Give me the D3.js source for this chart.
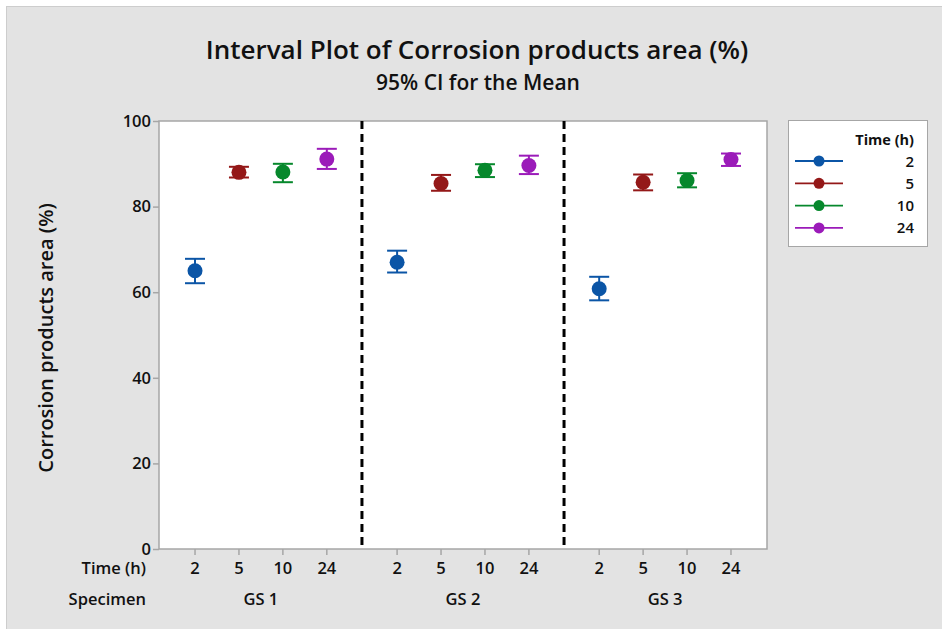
<!DOCTYPE html>
<html>
<head>
<meta charset="utf-8">
<script src="https://cdn.jsdelivr.net/npm/d3@7"></script>
<style>
  html, body { margin: 0; padding: 0; background: #ffffff; }
  svg { display: block; font-family: "Open Sans", "Noto Sans", sans-serif; }
</style>
</head>
<body>
<svg id="chart" width="942" height="629"></svg>
<script>
// ---- data ----
const specimens = ["GS 1", "GS 2", "GS 3"];
const times = ["2", "5", "10", "24"];
const means = [
  [65.0, 88.0, 88.1, 91.1],
  [67.0, 85.4, 88.5, 89.6],
  [60.8, 85.7, 86.1, 91.0]
];
const lower = [
  [62.1, 86.8, 85.7, 88.8],
  [64.6, 83.7, 86.9, 87.6],
  [58.1, 83.8, 84.5, 89.5]
];
const upper = [
  [67.8, 89.3, 90.0, 93.5],
  [69.7, 87.4, 89.9, 91.9],
  [63.6, 87.5, 87.8, 92.4]
];
const yTicks = [0, 20, 40, 60, 80, 100];
const colors = ["#0b55a6", "#941818", "#06882c", "#9b1bb9"];

// ---- layout ----
const svg = d3.select("#chart");
const W = 942, H = 629;
const plot = { left: 159, right: 767, top: 121, bottom: 549 };
const groupGap = 4.6;

svg.append("rect").attr("x", 6.5).attr("y", 6.5).attr("width", W - 6).attr("height", H - 6)
  .attr("fill", "#e3e3e3").attr("stroke", "#cdcdcd").attr("stroke-width", 1);

const y = d3.scaleLinear().domain([0, 100]).range([plot.bottom, plot.top]);
const xs = d3.scaleLinear().domain([-0.82, (specimens.length - 1) * groupGap + 3 + 0.82])
  .range([plot.left, plot.right]);
const pos = (g, i) => xs(g * groupGap + i);

// plot background
svg.append("rect").attr("x", plot.left).attr("y", plot.top)
  .attr("width", plot.right - plot.left).attr("height", plot.bottom - plot.top)
  .attr("fill", "#ffffff").attr("stroke", "#a6a6a6").attr("stroke-width", 1.5);

// y axis
const yAxis = d3.axisLeft(y).tickValues(yTicks).tickSize(6).tickPadding(2);
const ya = svg.append("g").attr("transform", `translate(${plot.left},0)`).call(yAxis);
ya.select(".domain").remove();
ya.selectAll(".tick line").attr("stroke", "#a6a6a6").attr("stroke-width", 1.5);
ya.selectAll(".tick text").attr("font-size", 16.5).attr("font-weight", 600)
  .attr("fill", "#111").attr("font-family", "'Open Sans', sans-serif");

// x axis ticks
const flat = [];
specimens.forEach((s, g) => times.forEach((t, i) => flat.push({ g, i, t })));
svg.append("g").selectAll("line").data(flat).join("line")
  .attr("x1", d => pos(d.g, d.i)).attr("x2", d => pos(d.g, d.i))
  .attr("y1", plot.bottom).attr("y2", plot.bottom + 6)
  .attr("stroke", "#a6a6a6").attr("stroke-width", 1.5);
svg.append("g").selectAll("text").data(flat).join("text")
  .attr("x", d => pos(d.g, d.i)).attr("y", 574)
  .attr("text-anchor", "middle").attr("font-size", 16.5).attr("font-weight", 600)
  .attr("fill", "#111").text(d => d.t);
svg.append("g").selectAll("text").data(specimens).join("text")
  .attr("x", (d, g) => pos(g, 1.5)).attr("y", 605)
  .attr("text-anchor", "middle").attr("font-size", 16.5).attr("font-weight", 600)
  .attr("fill", "#111").text(d => d);
svg.append("text").attr("x", 146).attr("y", 574).attr("text-anchor", "end")
  .attr("font-size", 16.5).attr("font-weight", 600).attr("fill", "#111").text("Time (h)");
svg.append("text").attr("x", 146).attr("y", 605).attr("text-anchor", "end")
  .attr("font-size", 16.5).attr("font-weight", 600).attr("fill", "#111").text("Specimen");

// dashed separators
for (let g = 0; g < specimens.length - 1; g++) {
  const xm = (pos(g, 3) + pos(g + 1, 0)) / 2;
  svg.append("line").attr("x1", xm).attr("x2", xm).attr("y1", plot.top).attr("y2", plot.bottom)
    .attr("stroke", "#000").attr("stroke-width", 3).attr("stroke-dasharray", "8,5");
}

// intervals
const pts = [];
specimens.forEach((s, g) => times.forEach((t, i) => pts.push({
  g, i, m: means[g][i], lo: lower[g][i], hi: upper[g][i], c: colors[i]
})));
const cap = 10;
const iv = svg.append("g").selectAll("g").data(pts).join("g");
iv.append("line").attr("x1", d => pos(d.g, d.i)).attr("x2", d => pos(d.g, d.i))
  .attr("y1", d => y(d.lo)).attr("y2", d => y(d.hi)).attr("stroke", d => d.c).attr("stroke-width", 2);
iv.append("line").attr("x1", d => pos(d.g, d.i) - cap).attr("x2", d => pos(d.g, d.i) + cap)
  .attr("y1", d => y(d.lo)).attr("y2", d => y(d.lo)).attr("stroke", d => d.c).attr("stroke-width", 2);
iv.append("line").attr("x1", d => pos(d.g, d.i) - cap).attr("x2", d => pos(d.g, d.i) + cap)
  .attr("y1", d => y(d.hi)).attr("y2", d => y(d.hi)).attr("stroke", d => d.c).attr("stroke-width", 2);
iv.append("circle").attr("cx", d => pos(d.g, d.i)).attr("cy", d => y(d.m)).attr("r", 7.5)
  .attr("fill", d => d.c);

// titles
svg.append("text").attr("x", 477).attr("y", 59).attr("text-anchor", "middle")
  .attr("font-size", 26).attr("font-weight", 600).attr("fill", "#111")
  .text("Interval Plot of Corrosion products area (%)");
svg.append("text").attr("x", 478).attr("y", 90).attr("text-anchor", "middle")
  .attr("font-size", 21).attr("font-weight", 600).attr("fill", "#111")
  .text("95% CI for the Mean");
svg.append("text").attr("transform", `translate(53,${(plot.top + plot.bottom) / 2 + 3}) rotate(-90)`)
  .attr("text-anchor", "middle").attr("font-size", 20).attr("font-weight", 600).attr("fill", "#111")
  .text("Corrosion products area (%)");

// legend
const lg = svg.append("g");
lg.append("rect").attr("x", 788.5).attr("y", 120.5).attr("width", 139).attr("height", 126)
  .attr("fill", "#fff").attr("stroke", "#a6a6a6").attr("stroke-width", 1);
lg.append("text").attr("x", 914).attr("y", 145).attr("text-anchor", "end")
  .attr("font-size", 14.5).attr("font-weight", 700).attr("fill", "#111").text("Time (h)");
const rows = lg.selectAll("g.row").data(times).join("g").attr("class", "row")
  .attr("transform", (d, i) => `translate(0,${161 + i * 22.3})`);
rows.append("line").attr("x1", 795).attr("x2", 843).attr("y1", 0).attr("y2", 0)
  .attr("stroke", (d, i) => colors[i]).attr("stroke-width", 1.8);
rows.append("circle").attr("cx", 819).attr("cy", 0).attr("r", 5.5).attr("fill", (d, i) => colors[i]);
rows.append("text").attr("x", 914).attr("y", 5.5).attr("text-anchor", "end")
  .attr("font-size", 15).attr("font-weight", 600).attr("fill", "#111").text(d => d);
</script>
</body>
</html>
